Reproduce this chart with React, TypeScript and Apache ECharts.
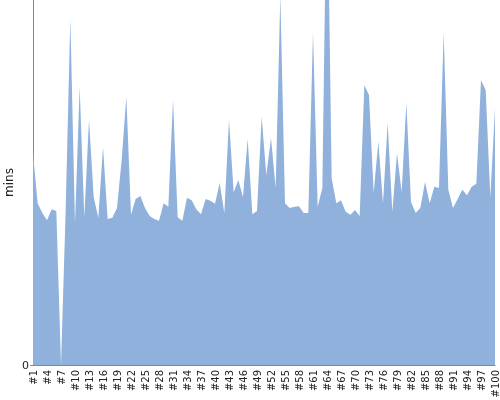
import React, { useEffect, useRef } from "react";
import * as echarts from "echarts";

const categories: string[] = Array.from({ length: 100 }, (_, i) => "#" + (i + 1));

const minsValues: number[] = [
  34.8, 26.6, 25.0, 23.8, 25.6, 25.3, 0, 25.5, 57.0, 23.3,
  45.7, 24.3, 40.3, 27.6, 24.2, 35.8, 24.0, 24.2, 25.8, 33.7,
  44.1, 24.7, 27.3, 27.8, 25.8, 24.5, 24.0, 23.7, 26.6, 26.0,
  43.6, 24.3, 23.7, 27.5, 27.1, 25.6, 24.8, 27.3, 27.0, 26.5,
  29.9, 25.0, 40.3, 28.4, 30.4, 27.6, 37.2, 24.8, 25.3, 40.8,
  31.2, 37.3, 29.1, 60.8, 26.6, 25.8, 26.0, 26.1, 25.0, 25.0,
  54.7, 26.0, 29.1, 84.7, 30.7, 26.6, 27.1, 25.2, 24.7, 25.5,
  24.5, 46.0, 44.4, 28.3, 36.7, 26.6, 39.8, 25.2, 34.8, 28.4,
  43.1, 26.8, 25.0, 25.8, 30.1, 26.6, 29.3, 29.1, 54.6, 28.8,
  25.8, 27.3, 28.8, 27.9, 29.3, 29.8, 46.8, 45.2, 27.6, 42.2,
];

const yMin = 0;
const yMax = 60;

export default function App() {
  const ref = useRef<HTMLDivElement>(null);
  useEffect(() => {
    if (!ref.current) return;
    const chart = echarts.init(ref.current, null, { renderer: "svg" });
    chart.setOption({
      animation: false,
      grid: {
        left: 33,
        right: 5,
        top: 0,
        bottom: 35,
        containLabel: false,
        outerBoundsMode: "none",
      },
      xAxis: {
        type: "category",
        data: categories,
        boundaryGap: false,
        axisLine: { show: true, lineStyle: { color: "#888", width: 1 } },
        axisTick: { show: false },
        axisLabel: {
          interval: 2,
          rotate: 90,
          color: "#222",
          fontSize: 10,
          fontFamily: "DejaVu Sans",
          margin: 5,
        },
        splitLine: { show: false },
      },
      yAxis: {
        type: "value",
        min: yMin,
        max: yMax,
        interval: yMax,
        name: "mins",
        nameLocation: "middle",
        nameRotate: 90,
        nameGap: 18,
        nameMoveOverlap: false,
        nameTextStyle: { color: "#222", fontSize: 12, fontFamily: "DejaVu Sans" },
        axisLine: { show: true, lineStyle: { color: "#888", width: 1 } },
        axisTick: { show: true, length: 3, lineStyle: { color: "#888" } },
        axisLabel: {
          showMaxLabel: false,
          color: "#222",
          fontSize: 11,
          fontFamily: "DejaVu Sans",
          margin: 4,
        },
        splitLine: { show: false },
      },
      series: [
        {
          type: "line",
          data: minsValues,
          showSymbol: false,
          symbol: "none",
          clip: true,
          lineStyle: { width: 0, color: "#8fb1dc" },
          itemStyle: { color: "#8fb1dc" },
          areaStyle: { color: "#8fb1dc", opacity: 1 },
        },
      ],
    });
    return () => chart.dispose();
  }, []);
  return (
    <div
      ref={ref}
      style={{ position: "fixed", left: 0, top: 0, width: 500, height: 400 }}
    />
  );
}
